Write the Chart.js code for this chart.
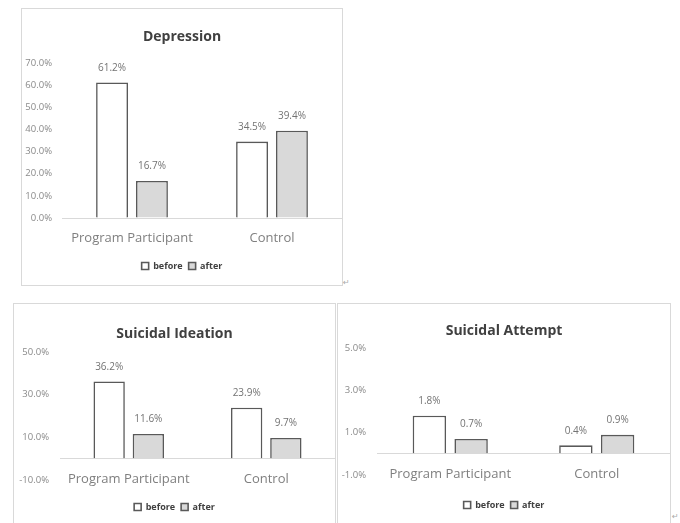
<!DOCTYPE html>
<html>
<head>
<meta charset="utf-8">
<script src="https://cdn.jsdelivr.net/npm/chart.js@4.4.1/dist/chart.umd.min.js"></script>
<style>
  body { margin: 0; width: 680px; height: 523px; overflow: hidden; background: #fff; position: relative; }
  .box { position: absolute; border: 1px solid #d9d9d9; box-sizing: border-box; }
  .inner { position: absolute; left: 0; top: 0; }
  .mark { position: absolute; font: 8px "DejaVu Sans"; color: #aaa; }
</style>
</head>
<body>
<div class="box" style="left:21px; top:8px; width:322px; height:278px;">
  <div class="inner" style="width:320px; height:276px;"><canvas id="depChart"></canvas></div>
</div>
<div class="box" style="left:13px; top:303px; width:323px; height:230px;">
  <div class="inner" style="width:321px; height:228px;"><canvas id="ideChart"></canvas></div>
</div>
<div class="box" style="left:337px; top:303px; width:334px; height:230px;">
  <div class="inner" style="width:332px; height:228px;"><canvas id="attChart"></canvas></div>
</div>
<span class="mark" style="left:343px; top:278px;">↵</span>
<span class="mark" style="left:672px; top:512px;">↵</span>

<script>
// data (percent)
const categories = ['Program Participant', 'Control'];
const seriesNames = ['before', 'after'];

const depressionBefore = [61.2, 34.5];
const depressionAfter = [16.7, 39.4];
const depressionTicks = [0, 10, 20, 30, 40, 50, 60, 70];

const ideationBefore = [36.2, 23.9];
const ideationAfter = [11.6, 9.7];
const ideationTicks = [-10, 10, 30, 50];

const attemptBefore = [1.8, 0.4];
const attemptAfter = [0.7, 0.9];
const attemptTicks = [-1, 1, 3, 5];

const font = 'Open Sans';

// writes the value above every bar
const valueLabels = {
  id: 'valueLabels',
  afterDatasetsDraw(chart) {
    const ctx = chart.ctx;
    ctx.save();
    ctx.font = '10px "' + font + '"';
    ctx.fillStyle = '#737373';
    ctx.textAlign = 'center';
    ctx.textBaseline = 'middle';
    chart.data.datasets.forEach((ds, i) => {
      chart.getDatasetMeta(i).data.forEach((bar, j) => {
        ctx.fillText(ds.data[j].toFixed(1) + '%', bar.x, bar.y - 14.5);
      });
    });
    ctx.restore();
  }
};

const drawChart = (id, titleText, before, after, ticks, lay) => {
  new Chart(id, {
    type: 'bar',
    data: {
      labels: categories,
      datasets: [
        { label: seriesNames[0], data: before, backgroundColor: '#ffffff', borderColor: '#595959', borderWidth: 1.6,
          categoryPercentage: 0.57, barPercentage: 0.8 },
        { label: seriesNames[1], data: after, backgroundColor: '#d9d9d9', borderColor: '#595959', borderWidth: 1.6,
          categoryPercentage: 0.57, barPercentage: 0.8 }
      ]
    },
    options: {
      animation: false,
      responsive: true,
      maintainAspectRatio: false,
      layout: { padding: { left: 0, right: 0, top: 0, bottom: lay.bottom } },
      plugins: {
        title: {
          display: true, text: titleText, color: '#404040', padding: lay.title,
          font: { family: font, size: 14, weight: 'bold' }
        },
        legend: {
          position: 'bottom',
          labels: { boxWidth: 7, boxHeight: 7, padding: 6, color: '#404040', font: { family: font, size: 9, weight: 'bold' } }
        },
        tooltip: { enabled: false }
      },
      scales: {
        x: {
          grid: { display: false, drawTicks: false },
          border: { display: false },
          // mirror lets the labels sit up at the -x% level (no clipping to the axis box)
          ticks: { color: '#7f7f7f', padding: lay.xPad, mirror: lay.mirror, font: { family: font, size: 13 } },
          afterFit: a => { a.height = lay.xHeight; }
        },
        y: {
          min: ticks[0],
          max: ticks[ticks.length - 1],
          // zero line is the only line drawn, even where 0 has no label
          afterBuildTicks: a => {
            const vals = ticks.includes(0) ? ticks.slice() : ticks.concat([0]);
            a.ticks = vals.sort((p, q) => p - q).map(v => ({ value: v }));
          },
          grid: { drawTicks: false, color: c => c.tick && c.tick.value === 0 ? '#d9d9d9' : 'rgba(0,0,0,0)' },
          border: { display: false },
          ticks: {
            color: '#8a8a8a', padding: lay.yPad, font: { family: font, size: 9.5 },
            callback: v => ticks.includes(v) ? v.toFixed(1) + '%' : ''
          },
          afterFit: a => { a.width = lay.yWidth; }
        }
      }
    },
    plugins: [valueLabels]
  });
};

drawChart('depChart', 'Depression', depressionBefore, depressionAfter, depressionTicks,
  { title: { top: 19.5, bottom: 17.7 }, yWidth: 40, yPad: 10, xPad: 12, mirror: false, xHeight: 37.5, bottom: 4.5 });

drawChart('ideChart', 'Suicidal Ideation', ideationBefore, ideationAfter, ideationTicks,
  { title: { top: 21.6, bottom: 9.6 }, yWidth: 46, yPad: 11, xPad: -7.5, mirror: true, xHeight: 16.5, bottom: 10.5 });

drawChart('attChart', 'Suicidal Attempt', attemptBefore, attemptAfter, attemptTicks,
  { title: { top: 18.6, bottom: 8.6 }, yWidth: 39, yPad: 11, xPad: -7.5, mirror: true, xHeight: 19.5, bottom: 12.5 });
</script>
</body>
</html>
